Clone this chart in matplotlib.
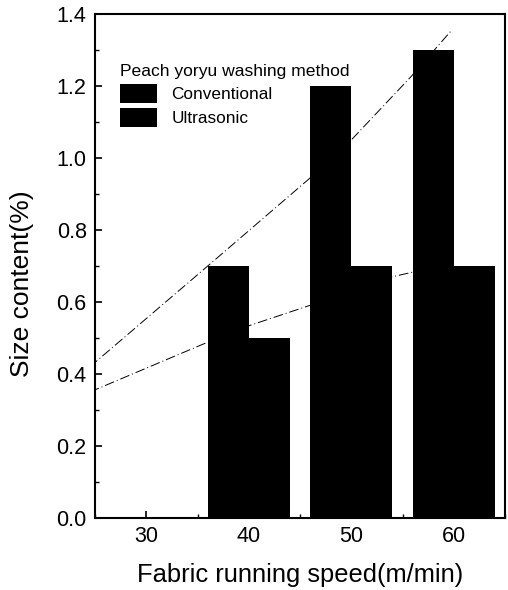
import matplotlib
matplotlib.use("Agg")
import matplotlib.pyplot as plt
from matplotlib.ticker import MultipleLocator, FormatStrFormatter

plt.rcParams['font.family'] = ['Liberation Sans', 'DejaVu Sans']

speeds = [40, 50, 60]
conventional = [0.7, 1.2, 1.3]
ultrasonic = [0.5, 0.7, 0.7]
series_labels = ["Conventional", "Ultrasonic"]
legend_title = "Peach yoryu washing method"

# trend lines
trend_conv_x = [24.5, 36, 45.8, 50, 55.8, 59.8]
trend_conv_y = [0.42, 0.70, 0.94, 1.05, 1.225, 1.355]
trend_ultra_x = [24.5, 35.8, 39.9, 45.9, 54, 56]
trend_ultra_y = [0.35, 0.486, 0.533, 0.59, 0.67, 0.683]

fig = plt.figure(figsize=(5.08, 5.90), dpi=100)
ax = fig.add_axes([95/508, 72/590, 410/508, 504/590])

bw = 4
ax.bar([s - bw/2 for s in speeds], conventional, width=bw, color='black',
       label=series_labels[0], zorder=2)
ax.bar([s + bw/2 for s in speeds], ultrasonic, width=bw, color='black',
       label=series_labels[1], zorder=2)

ax.plot(trend_conv_x, trend_conv_y, color='black', lw=0.7,
        linestyle=(0, (10, 3, 1, 3)), zorder=1)
ax.plot(trend_ultra_x, trend_ultra_y, color='black', lw=0.7,
        linestyle=(0, (10, 3, 1, 3)), zorder=1)

ax.set_xlim(25, 65)
ax.set_ylim(0, 1.4)
ax.set_xticks([30, 40, 50, 60])
ax.xaxis.set_minor_locator(MultipleLocator(5))
ax.yaxis.set_major_locator(MultipleLocator(0.2))
ax.yaxis.set_minor_locator(MultipleLocator(0.1))
ax.yaxis.set_major_formatter(FormatStrFormatter('%.1f'))

ax.tick_params(which='major', direction='in', length=5, width=1.2,
               labelsize=15.5, pad=6)
ax.tick_params(which='minor', direction='in', length=3, width=1.0)
for sp in ax.spines.values():
    sp.set_linewidth(1.5)

ax.set_xlabel("Fabric running speed(m/min)", fontsize=18.4, labelpad=11)
ax.set_ylabel("Size content(%)", fontsize=19)
ax.yaxis.set_label_coords(-0.148, 0.465)

leg = ax.legend(title=legend_title, loc='upper left',
                bbox_to_anchor=(0.045, 0.915), frameon=False,
                fontsize=12.4, title_fontsize=12.6, handlelength=2.15,
                handleheight=1.3, labelspacing=0.3, handletextpad=0.8,
                borderaxespad=0)
leg._legend_box.align = "left"

fig.savefig("out.png", dpi=100)
